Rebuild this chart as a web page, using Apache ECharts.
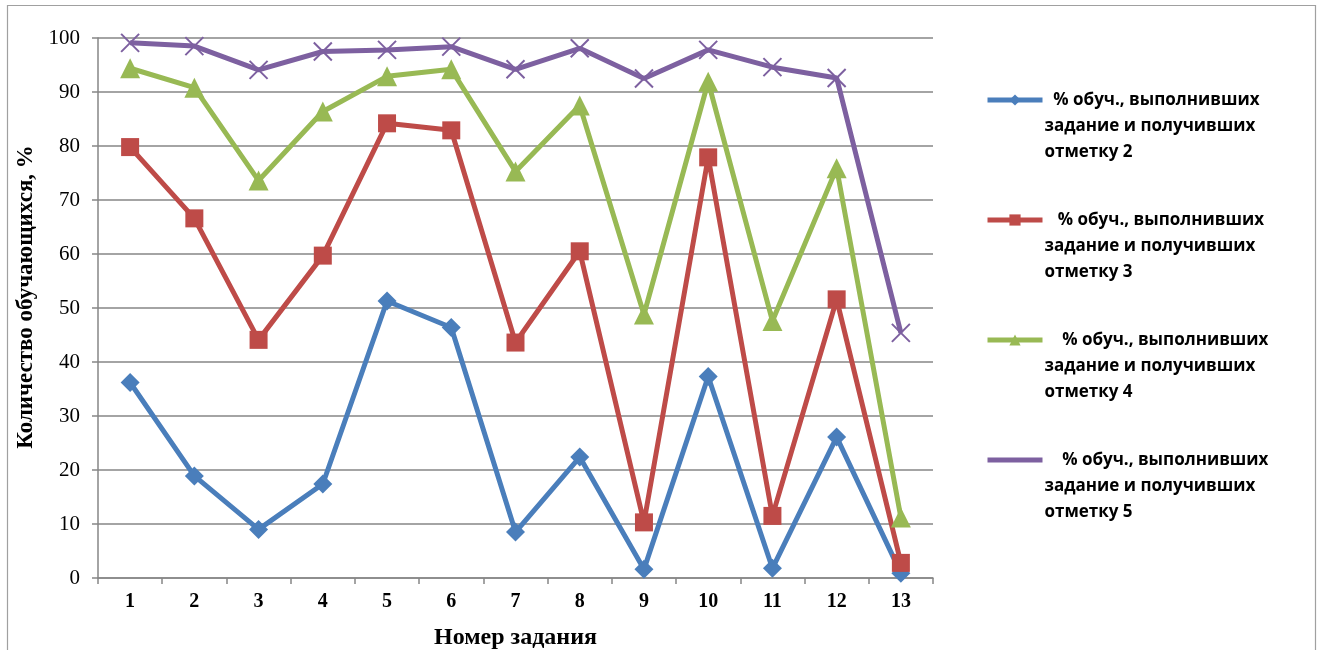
<!DOCTYPE html>
<html>
<head>
<meta charset="utf-8">
<script src="https://cdn.jsdelivr.net/npm/echarts@6/dist/echarts.min.js"></script>
<style>
html,body{margin:0;padding:0;background:#fff;}
#chart{width:1323px;height:650px;}
</style>
</head>
<body>
<div id="chart"></div>
<script>
var categories = ['1','2','3','4','5','6','7','8','9','10','11','12','13'];
var seriesNames = [
  '% обуч., выполнивших задание и получивших отметку 2',
  '% обуч., выполнивших задание и получивших отметку 3',
  '% обуч., выполнивших задание и получивших отметку 4',
  '% обуч., выполнивших задание и получивших отметку 5'
];
var mark2 = [36.2, 18.9, 9.0, 17.4, 51.3, 46.4, 8.5, 22.4, 1.6, 37.3, 1.8, 26.1, 0.9];
var mark3 = [79.8, 66.6, 44.1, 59.7, 84.2, 82.9, 43.6, 60.5, 10.3, 77.9, 11.5, 51.6, 2.8];
var mark4 = [94.4, 90.8, 73.6, 86.4, 92.9, 94.2, 75.3, 87.5, 48.8, 91.9, 47.6, 75.9, 11.2];
var mark5 = [99.1, 98.5, 94.1, 97.5, 97.8, 98.4, 94.2, 98.1, 92.5, 97.8, 94.6, 92.6, 45.4];
var yTicks = [0, 10, 20, 30, 40, 50, 60, 70, 80, 90, 100];
var xTitle = 'Номер задания';
var yTitle = 'Количество обучающихся, %';

var colors = ['#4A7EBB', '#BE4B48', '#98B954', '#7D60A0'];
var legendPrefix = ['  ', '   ', '    ', '    '];

function mk(name, data, color, symbol, size, extra) {
  var s = {
    name: name,
    type: 'line',
    data: data,
    symbol: symbol,
    symbolSize: size,
    showAllSymbol: true,
    lineStyle: { color: color, width: 5 },
    itemStyle: { color: color },
    emphasis: { disabled: true },
    animation: false
  };
  if (extra) { s.itemStyle = extra; }
  return s;
}

var chart = echarts.init(document.getElementById('chart'), null, { renderer: 'canvas' });
chart.setOption({
  backgroundColor: '#ffffff',
  animation: false,
  color: colors,
  grid: { left: 98, top: 38, width: 835, height: 540, containLabel: false, outerBoundsMode: 'none' },
  xAxis: {
    type: 'category',
    data: categories,
    boundaryGap: true,
    name: xTitle,
    nameLocation: 'middle',
    nameGap: 48,
    nameTextStyle: { fontFamily: 'Liberation Serif', fontWeight: 'bold', fontSize: 24, color: '#000' },
    axisLine: { lineStyle: { color: '#868686', width: 1.5 } },
    axisTick: { show: true, alignWithLabel: false, length: 6, lineStyle: { color: '#868686', width: 1.5 } },
    axisLabel: { margin: 14, fontFamily: 'Liberation Serif', fontWeight: 'bold', fontSize: 20, color: '#000' },
    splitLine: { show: false }
  },
  yAxis: {
    type: 'value',
    min: 0, max: 100, interval: 10,
    name: yTitle,
    nameLocation: 'middle',
    nameGap: 52,
    nameRotate: 90,
    nameTextStyle: { fontFamily: 'Liberation Serif', fontWeight: 'bold', fontSize: 23, color: '#000', padding: [0, 0, 0, 22] },
    axisLine: { show: true, lineStyle: { color: '#868686', width: 1.5 } },
    axisTick: { show: true, length: 6, lineStyle: { color: '#868686', width: 1.5 } },
    axisLabel: { margin: 18, fontFamily: 'Liberation Serif', fontSize: 21, color: '#000',
      formatter: function (v) { return yTicks.indexOf(v) >= 0 ? String(v) : ''; } },
    splitLine: { show: true, lineStyle: { color: '#868686', width: 1.5 } }
  },
  legend: {
    orient: 'vertical',
    left: 985,
    top: 35,
    padding: 0,
    itemGap: -10,
    itemWidth: 55,
    itemHeight: 14,
    lineStyle: { width: 5 },
    itemStyle: { borderWidth: 0 },
    selectedMode: false,
    data: seriesNames,
    formatter: function (name) {
      var i = seriesNames.indexOf(name);
      var parts = name.split(' задание ');
      return '\n\n' + legendPrefix[i] + parts[0] + '\nзадание ' + parts[1].replace(' отметку', '\nотметку');
    },
    textStyle: { fontFamily: 'Open Sans', fontWeight: 'bold', fontSize: 17, lineHeight: 26, color: '#000', padding: [0, 0, 0, -3] }
  },
  graphic: [
    { type: 'polyline', silent: true, shape: { points: [[7.5, 660], [7.5, 5.5], [1315.5, 5.5], [1315.5, 660]] },
      style: { stroke: '#A0A0A0', lineWidth: 1.2, fill: null } }
  ],
  series: [
    mk(seriesNames[0], mark2, colors[0], 'diamond', 19),
    mk(seriesNames[1], mark3, colors[1], 'rect', 18),
    mk(seriesNames[2], mark4, colors[2], 'triangle', 20),
    mk(seriesNames[3], mark5, colors[3], 'path://M0,0L10,10M10,0L0,10', 18,
       { color: colors[3], borderColor: colors[3], borderWidth: 2 })
  ]
});
</script>
</body>
</html>
